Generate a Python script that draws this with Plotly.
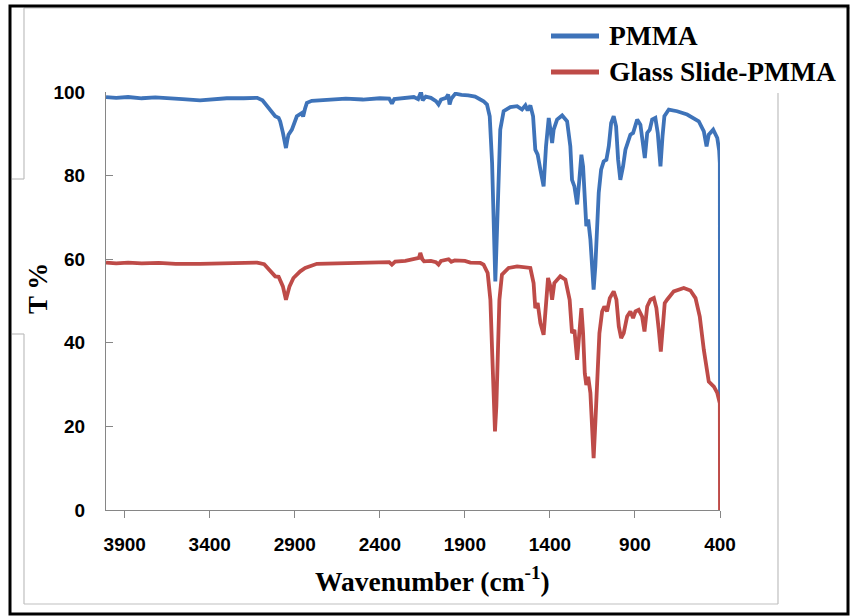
import plotly.graph_objects as go

# FTIR transmittance spectra (wavenumber in cm^-1, transmittance in %)
wn_pmma = [4010, 3950, 3880, 3800, 3720, 3640, 3560, 3457, 3380, 3300, 3200, 3121,
           3090, 3074, 3045, 3015, 2995, 2986, 2970, 2960, 2952, 2944, 2937, 2917,
           2900, 2888, 2858, 2851, 2840, 2829, 2800, 2770, 2700, 2600, 2500, 2400,
           2345, 2329, 2315, 2260, 2200, 2175, 2165, 2158, 2148, 2130, 2100, 2070,
           2055, 2040, 2010, 1998, 1990, 1980, 1956, 1920, 1880, 1840, 1809, 1790,
           1770, 1754, 1740, 1731, 1721, 1711, 1701, 1692, 1672, 1633, 1593, 1564,
           1544, 1531, 1515, 1499, 1486, 1472, 1456, 1437, 1423, 1407, 1397, 1387,
           1378, 1358, 1328, 1299, 1280, 1270, 1256, 1240, 1227, 1215, 1205, 1195,
           1186, 1175, 1162, 1152, 1143, 1133, 1123, 1113, 1099, 1084, 1068, 1054,
           1040, 1025, 1011, 999, 986, 970, 956, 927, 911, 887, 868, 854, 842, 828,
           813, 799, 780, 766, 750, 738, 727, 701, 652, 593, 525, 495, 479, 466,
           440, 416, 405, 401, 400]
t_pmma = [98.8, 98.6, 98.8, 98.5, 98.7, 98.4, 98.3, 98.0, 98.3, 98.5, 98.5, 98.6,
          98.0, 97.2, 95.8, 94.2, 93.8, 93.0, 90.3, 88.5, 86.6, 88.5, 89.8, 91.0,
          92.8, 94.2, 95.0, 94.1, 96.0, 97.4, 97.9, 98.0, 98.2, 98.4, 98.2, 98.5,
          98.4, 97.2, 98.3, 98.6, 98.8, 98.3, 99.8, 100.0, 98.0, 98.9, 98.6, 97.8,
          97.0, 98.2, 98.6, 99.4, 97.0, 98.4, 99.6, 99.3, 99.2, 98.9, 98.2, 97.8,
          97.0, 94.2, 83.0, 67.0, 54.7, 67.0, 83.0, 91.0, 95.4, 96.4, 96.6, 95.8,
          96.8, 95.6, 96.8, 94.2, 86.2, 85.0, 81.4, 77.4, 87.0, 93.8, 91.0, 87.8,
          91.0, 93.4, 94.4, 93.0, 87.0, 79.0, 77.4, 73.1, 79.0, 85.0, 82.2, 75.0,
          67.9, 69.5, 64.7, 58.3, 52.7, 58.3, 68.7, 75.9, 81.4, 83.4, 83.8, 87.0,
          92.6, 94.2, 91.8, 83.8, 79.0, 82.2, 86.2, 89.8, 90.2, 93.4, 92.2, 88.6,
          84.2, 90.2, 91.0, 93.4, 93.8, 90.2, 82.2, 89.4, 94.2, 95.8, 95.4, 94.6,
          93.0, 90.6, 87.0, 89.8, 91.0, 89.0, 86.0, 83.0, 27.0]

wn_glass = [4010, 3950, 3880, 3800, 3700, 3600, 3457, 3350, 3250, 3121, 3080, 3064,
            3040, 3015, 2995, 2986, 2970, 2952, 2940, 2931, 2908, 2868, 2839, 2800,
            2770, 2650, 2500, 2345, 2329, 2310, 2250, 2190, 2170, 2162, 2150, 2140,
            2100, 2070, 2055, 2040, 2010, 1996, 1980, 1960, 1900, 1868, 1809, 1790,
            1766, 1750, 1740, 1731, 1723, 1715, 1707, 1697, 1682, 1643, 1593, 1550,
            1515, 1496, 1486, 1472, 1456, 1437, 1423, 1411, 1397, 1387, 1374, 1339,
            1309, 1284, 1270, 1256, 1240, 1227, 1215, 1205, 1195, 1186, 1175, 1162,
            1152, 1143, 1133, 1123, 1109, 1093, 1080, 1064, 1048, 1025, 1009, 995,
            981, 966, 946, 927, 911, 897, 878, 858, 844, 828, 809, 789, 774, 760,
            748, 736, 725, 711, 695, 672, 613, 574, 544, 519, 495, 479, 466, 436,
            416, 401, 400]
t_glass = [59.2, 59.0, 59.2, 59.0, 59.1, 58.9, 58.9, 59.0, 59.2, 59.2, 58.8, 58.0,
           57.0, 55.9, 55.8, 55.1, 53.5, 50.3, 52.0, 53.5, 55.5, 57.1, 57.9, 58.6,
           58.9, 59.0, 59.1, 59.3, 58.7, 59.4, 59.6, 60.0, 60.3, 61.5, 60.0, 59.5,
           59.6, 59.3, 58.7, 59.6, 59.8, 60.0, 59.4, 59.7, 59.6, 59.2, 59.1, 58.7,
           56.7, 50.3, 38.3, 24.0, 18.8, 24.8, 38.3, 50.3, 56.3, 57.9, 58.3, 58.0,
           57.9, 54.3, 48.3, 49.5, 44.7, 41.9, 51.1, 55.5, 53.5, 50.3, 54.3, 55.9,
           55.1, 50.3, 42.3, 43.1, 35.9, 41.5, 48.3, 42.3, 32.7, 29.9, 31.9, 28.0,
           20.8, 12.4, 20.8, 31.9, 42.3, 47.5, 48.7, 47.5, 50.7, 52.3, 50.3, 43.9,
           41.1, 42.3, 46.3, 47.5, 45.9, 47.5, 47.9, 46.3, 42.7, 48.7, 50.3, 50.7,
           48.3, 43.1, 37.9, 43.9, 49.5, 50.3, 51.1, 52.3, 53.1, 52.5, 50.7, 46.3,
           38.3, 33.5, 30.7, 29.5, 28.0, 25.5, 0.0]

series_names = ["PMMA", "Glass Slide-PMMA"]
series_colors = ["#3E73B9", "#BE4B48"]
x_ticks = [3900, 3400, 2900, 2400, 1900, 1400, 900, 400]

W, H = 850, 616
ML, MR, MT, MB = 106, 130, 92, 106
PW, PH = W - ML - MR, H - MT - MB


def px(x):
    return (x - ML) / PW


def py(y):
    return (H - MB - y) / PH


fig = go.Figure()
for wn, t, name, color in [(wn_pmma, t_pmma, series_names[0], series_colors[0]),
                           (wn_glass, t_glass, series_names[1], series_colors[1])]:
    fig.add_trace(go.Scatter(x=wn, y=t, mode="lines", name=name,
                             line=dict(color=color, width=3.8), showlegend=False))

serif = "Liberation Serif, Times New Roman, serif"
narrow = "Liberation Sans Narrow, Arial Narrow, Liberation Sans, sans-serif"

shapes = []
annotations = []

# hand-placed legend
for i, (name, color) in enumerate(zip(series_names, series_colors)):
    yy = 36 + 36 * i
    shapes.append(dict(type="line", xref="paper", yref="paper",
                       x0=px(551), x1=px(599), y0=py(yy), y1=py(yy),
                       line=dict(color=color, width=5)))
    annotations.append(dict(xref="paper", yref="paper", x=px(607), y=py(yy),
                            xanchor="left", yanchor="middle", showarrow=False,
                            text="<b>%s</b>" % name,
                            font=dict(family=serif, size=27.5, color="black")))

# axis titles
annotations.append(dict(xref="paper", yref="paper", x=px(432), y=py(579),
                        xanchor="center", yanchor="middle", showarrow=False,
                        text="<b>Wavenumber (cm<sup>-1</sup>)</b>",
                        font=dict(family=serif, size=27.5, color="black")))
annotations.append(dict(xref="paper", yref="paper", x=px(38), y=py(289),
                        xanchor="center", yanchor="middle", showarrow=False,
                        textangle=-90, text="<b>T %</b>",
                        font=dict(family=serif, size=27, color="black")))

# chart-area border (light gray) and outer frame (black)
gray = dict(color="#BFBFBF", width=1.2)
for (x0, y0, x1, y1) in [(24, 8, 850, 8), (24, 8, 24, 179), (12, 179, 24, 179),
                         (12, 334, 24, 334), (24, 334, 24, 604), (24, 604, 778, 604),
                         (778, 93, 778, 604)]:
    shapes.append(dict(type="line", xref="paper", yref="paper",
                       x0=px(x0), y0=py(y0), x1=px(x1), y1=py(y1), line=gray))
shapes.append(dict(type="rect", xref="paper", yref="paper",
                   x0=px(10), y0=py(6), x1=px(848), y1=py(614),
                   line=dict(color="black", width=3)))

axis_common = dict(showgrid=False, zeroline=False, showline=True,
                   linecolor="#868686", linewidth=1, tickcolor="#868686",
                   tickfont=dict(family=narrow, size=19, color="black", weight="bold"))

fig.update_layout(
    width=W, height=H,
    margin=dict(l=ML, r=MR, t=MT, b=MB),
    paper_bgcolor="white", plot_bgcolor="white",
    xaxis=dict(range=[4010, 400], tickvals=x_ticks, ticks="outside", ticklen=7,
               ticklabelstandoff=10, **axis_common),
    yaxis=dict(range=[0, 100], dtick=20, ticks="inside", ticklen=7,
               ticklabelstandoff=16, **axis_common),
    shapes=shapes,
    annotations=annotations,
)

fig.write_html("out.html")
